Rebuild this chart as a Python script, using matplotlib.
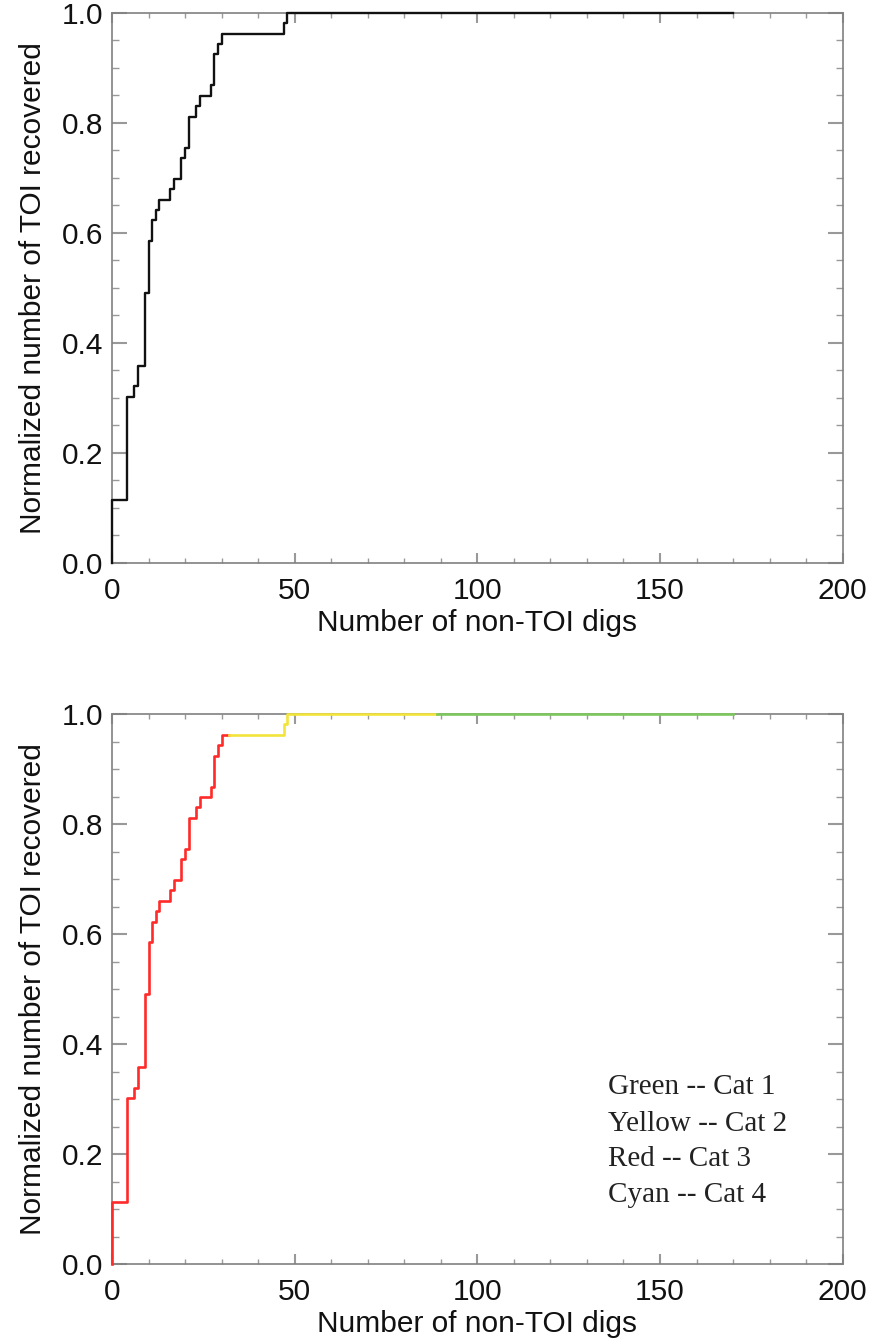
import matplotlib
matplotlib.use('Agg')
import matplotlib.pyplot as plt
from matplotlib.ticker import MultipleLocator

# cumulative count of TOI recovered vs number of non-TOI digs (step curve)
digs = [0, 0, 4, 6, 7, 9, 10, 11, 12, 13, 16, 17, 19, 20, 21, 23, 24, 27, 28, 29, 30, 47, 48, 170]
found = [0, 6, 16, 17, 19, 26, 31, 33, 34, 35, 36, 37, 39, 40, 43, 44, 45, 46, 49, 50, 51, 52, 53, 53]
n_toi = 53

# category segments along x for the lower panel
cat_names = ['Cat 3', 'Cat 2', 'Cat 1']
cat_start = [0, 32, 89]
cat_end = [32, 89, 170]
cat_colors = ['#ff2a2a', '#f2e43a', '#7cc75e']

legend_lines = ['Green -- Cat 1', 'Yellow -- Cat 2', 'Red -- Cat 3', 'Cyan -- Cat 4']
legend_y = [0.322, 0.255, 0.191, 0.126]

frac = [f / n_toi for f in found]

plt.rcParams['font.family'] = ['Liberation Sans', 'DejaVu Sans']


def value_at(x):
    # post-step value
    v = frac[0]
    for xi, yi in zip(digs, frac):
        if xi <= x:
            v = yi
    return v


def segment(a, b):
    if a == 0:
        xs, ys = [digs[0]], [frac[0]]
        for xi, yi in zip(digs[1:], frac[1:]):
            if xi < b:
                xs.append(xi)
                ys.append(yi)
    else:
        xs, ys = [a], [value_at(a)]
        for xi, yi in zip(digs, frac):
            if a < xi < b:
                xs.append(xi)
                ys.append(yi)
    xs.append(b)
    ys.append(value_at(b - 1e-9))
    return xs, ys


def style(ax):
    ax.set_xlim(0, 200)
    ax.set_ylim(0, 1.0)
    ax.xaxis.set_major_locator(MultipleLocator(50))
    ax.xaxis.set_minor_locator(MultipleLocator(10))
    ax.yaxis.set_major_locator(MultipleLocator(0.2))
    ax.yaxis.set_minor_locator(MultipleLocator(0.05))
    ax.yaxis.set_major_formatter(plt.FormatStrFormatter('%.1f'))
    for s in ax.spines.values():
        s.set_color('#808080')
        s.set_linewidth(1.2)
    ax.tick_params(axis='both', which='both', direction='in', top=True, right=True,
                   color='#999999', labelsize=21.5, labelcolor='#111111')
    ax.tick_params(axis='x', which='major', length=7, width=1.5, pad=10)
    ax.tick_params(axis='x', which='minor', length=3.5, width=1.0)
    ax.tick_params(axis='y', which='major', length=11, width=1.5, pad=6)
    ax.tick_params(axis='y', which='minor', length=5, width=1.0)
    ax.set_xlabel('Number of non-TOI digs', fontsize=21.5, color='#111111', labelpad=3)
    ax.set_ylabel('Normalized number of TOI recovered', fontsize=21.5, color='#111111', labelpad=11)


fig = plt.figure(figsize=(8.75, 13.43), dpi=100)
ax1 = fig.add_axes([0.128, 0.581, 0.835, 0.4095])
ax2 = fig.add_axes([0.128, 0.0588, 0.835, 0.4095])

ax1.step(digs, frac, where='post', color='#111111', lw=1.7, clip_on=False, zorder=3)
style(ax1)

for a, b, c in zip(cat_start, cat_end, cat_colors):
    xs, ys = segment(a, b)
    ax2.step(xs, ys, where='post', color=c, lw=1.9, clip_on=False, zorder=3)
style(ax2)

for txt, y in zip(legend_lines, legend_y):
    ax2.text(135.8, y, txt, fontsize=21, family=['Liberation Serif', 'DejaVu Serif'],
             va='center', ha='left', color='#222222')

fig.savefig('out.png', dpi=100)
